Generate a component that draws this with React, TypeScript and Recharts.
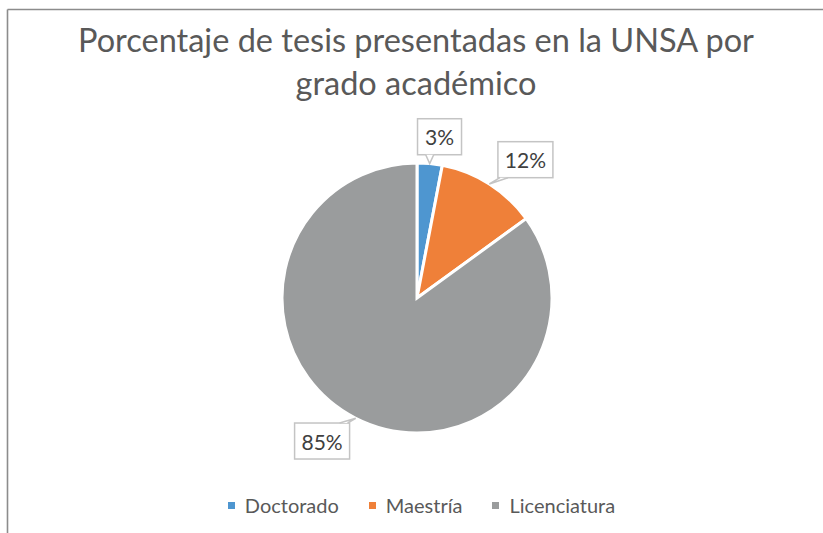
import React from 'react';
import { PieChart, Pie, Cell, Legend } from 'recharts';

// data
const categories = ['Doctorado', 'Maestría', 'Licenciatura'];
const percentages = [3, 12, 85];
const sliceColors = ['#4e96d0', '#ef8039', '#9a9c9d'];
const titleLines = ['Porcentaje de tesis presentadas en la UNSA por', 'grado académico'];

const data = categories.map((name, i) => ({ name, value: percentages[i] }));

const FONT = 'Lato, "Open Sans", sans-serif';
const TEXT = '#595959';
const RAD = Math.PI / 180;
// small nudges so the callouts sit where Excel put them
const LABEL_NUDGE = [
  [7, 3],
  [20, 1],
  [-20, -4],
];

const renderLabel = (props: any) => {
  const { cx, cy, midAngle, outerRadius, index, value } = props;
  const cos = Math.cos(midAngle * RAD);
  const sin = Math.sin(midAngle * RAD);
  // pointer tip sits on the slice edge
  const tx = cx + outerRadius * cos;
  const ty = cy - outerRadius * sin;
  const [nx, ny] = LABEL_NUDGE[index] || [0, 0];
  const bx = cx + (outerRadius + 30) * cos + nx;
  const by = cy - (outerRadius + 30) * sin + ny;
  const text = `${value}%`;
  const w = 11 * text.length + 22;
  const h = 36;
  const left = bx - w / 2;
  const top = by - h / 2;
  const edgeY = ty > top + h ? top + h : top;
  const baseX = Math.min(Math.max(tx, left + 6), left + w - 6);
  return (
    <g key={`lbl-${index}`}>
      <rect x={left} y={top} width={w} height={h} fill="#fff" stroke="#c4c4c4" strokeWidth={1.5} />
      <polygon points={`${baseX - 4},${edgeY} ${tx},${ty} ${baseX + 4},${edgeY}`} fill="#fff" stroke="none" />
      <polyline
        points={`${baseX - 4},${edgeY} ${tx},${ty} ${baseX + 4},${edgeY}`}
        fill="none"
        stroke="#c4c4c4"
        strokeWidth={1.5}
      />
      <text
        x={bx}
        y={by}
        textAnchor="middle"
        dominantBaseline="central"
        fontFamily={FONT}
        fontSize={21}
        fill="#404040"
      >
        {text}
      </text>
    </g>
  );
};

// legend keeps the series order (recharts would sort it by name)
const renderLegend = () => (
  <div
    style={{
      display: 'flex',
      justifyContent: 'center',
      paddingLeft: 20,
      fontFamily: FONT,
      fontSize: 20,
      lineHeight: '20px',
      color: TEXT,
    }}
  >
    {categories.map((name, i) => (
      <div key={`leg-${i}`} style={{ display: 'flex', alignItems: 'center', marginRight: i < categories.length - 1 ? 30 : 0 }}>
        <span style={{ width: 7, height: 7, background: sliceColors[i], marginRight: 10, display: 'inline-block' }} />
        <span>{name}</span>
      </div>
    ))}
  </div>
);

export default function App() {
  return (
    <div style={{ position: 'absolute', left: 0, top: 0, width: 823, height: 533, background: '#fff' }}>
      <svg width={823} height={533} style={{ position: 'absolute', left: 0, top: 0 }}>
        <line x1={7.5} y1={9.5} x2={823} y2={9.5} stroke="#8c8c8c" strokeWidth={1.6} />
        <line x1={7.5} y1={9.5} x2={7.5} y2={533} stroke="#8c8c8c" strokeWidth={1.6} />
        {titleLines.map((t, i) => (
          <text
            key={t}
            x={416}
            y={52 + i * 43}
            textAnchor="middle"
            fontFamily={FONT}
            fontSize={32.5}
            fill={TEXT}
          >
            {t}
          </text>
        ))}
      </svg>
      <div style={{ position: 'absolute', left: 0, top: 0 }}>
        <PieChart width={823} height={533} margin={{ top: 0, right: 0, bottom: 0, left: 0 }}>
          <Pie
            data={data}
            dataKey="value"
            nameKey="name"
            cx={417}
            cy={298}
            outerRadius={135}
            startAngle={90}
            endAngle={-270}
            stroke="#fff"
            strokeWidth={3}
            label={renderLabel}
            labelLine={false}
            isAnimationActive={false}
          >
            {data.map((d, i) => (
              <Cell key={`cell-${i}`} fill={sliceColors[i]} />
            ))}
          </Pie>
          <Legend
            content={renderLegend}
            wrapperStyle={{ position: 'absolute', left: 0, top: 495, width: 823 }}
          />
        </PieChart>
      </div>
    </div>
  );
}
